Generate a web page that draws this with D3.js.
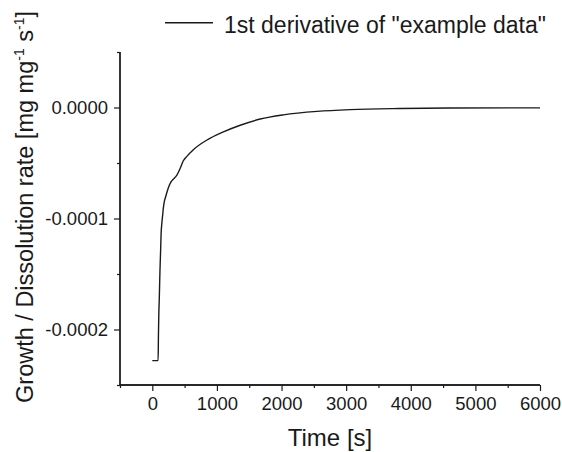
<!DOCTYPE html>
<html>
<head>
<meta charset="utf-8">
<script src="https://cdn.jsdelivr.net/npm/d3@7"></script>
<style>
  html, body { margin: 0; padding: 0; background: #fff; }
  svg { display: block; }
  text { font-family: "Liberation Sans", Arial, Helvetica, sans-serif; fill: #1a1a1a; }
</style>
</head>
<body>
<svg id="chart" width="562" height="452"></svg>
<script>
// ---- data ----
const timeS = [0, 90, 95, 100, 108, 118, 128, 136, 148, 161, 170, 182, 210, 250, 290, 330, 380, 430, 480, 535, 635, 840, 1100, 1360, 1670, 2030, 2550, 3060, 3830, 4600, 6000];
const rate = [-2.28e-4, -2.28e-4, -2.05e-4, -1.88e-4, -1.72e-4, -1.48e-4, -1.30e-4, -1.14e-4, -1.04e-4, -0.965e-4, -0.91e-4, -0.86e-4, -0.797e-4, -0.72e-4, -0.67e-4, -0.643e-4, -0.61e-4, -0.55e-4, -0.48e-4, -0.44e-4, -0.38e-4, -0.295e-4, -0.22e-4, -0.16e-4, -0.104e-4, -0.066e-4, -0.035e-4, -0.019e-4, -0.009e-4, -0.005e-4, -0.003e-4];
const xMajorTicks = [0, 1000, 2000, 3000, 4000, 5000, 6000];
const xMinorTicks = [-500, 500, 1500, 2500, 3500, 4500, 5500];
const yMajorTicks = [-0.0002, -0.0001, 0];
const yMajorLabels = ["-0.0002", "-0.0001", "0.0000"];
const yMinorTicks = [-0.00025, -0.00015, -0.00005, 0.00005];
const legendLabel = '1st derivative of "example data"';
const xTitle = "Time [s]";

// ---- layout ----
const svg = d3.select("#chart");
const pLeft = 120, pRight = 540, pTop = 52, pBottom = 385;
const x = d3.scaleLinear().domain([-500, 6000]).range([pLeft, pRight]);
const y = d3.scaleLinear().domain([-0.00025, 0.00005]).range([pBottom, pTop]);
const ink = "#1a1a1a";

// x axis
const gx = svg.append("g").attr("transform", `translate(0,${pBottom})`);
gx.call(d3.axisBottom(x).tickValues(xMajorTicks).tickSize(6).tickPadding(6).tickFormat(d => String(d)));
gx.append("g").call(d3.axisBottom(x).tickValues(xMinorTicks).tickSize(3).tickFormat(""));
gx.selectAll(".domain").attr("d", `M${pLeft},0H${pRight}`);
// y axis
const gy = svg.append("g").attr("transform", `translate(${pLeft},0)`);
gy.call(d3.axisLeft(y).tickValues(yMajorTicks).tickSize(6).tickPadding(6).tickFormat((d, i) => yMajorLabels[i]));
gy.append("g").call(d3.axisLeft(y).tickValues(yMinorTicks).tickSize(3).tickFormat(""));
gy.selectAll(".domain").attr("d", `M0,${pTop}V${pBottom}`);

svg.selectAll(".domain").attr("stroke", ink).attr("stroke-width", 1.3);
svg.selectAll(".tick line").attr("stroke", ink).attr("stroke-width", 1.2);
svg.selectAll(".tick text").attr("font-size", 18.5).attr("fill", ink)
   .style("font-family", '"Liberation Sans", Arial, sans-serif');

// line
const line = d3.line().x((d, i) => x(timeS[i])).y((d, i) => y(rate[i])).curve(d3.curveMonotoneX);
svg.append("path").datum(rate).attr("d", line)
   .attr("fill", "none").attr("stroke", ink).attr("stroke-width", 1.4);

// axis titles
svg.append("text").attr("x", (pLeft + pRight) / 2).attr("y", 446)
   .attr("text-anchor", "middle").attr("font-size", 24).text(xTitle);

const yt = svg.append("text").attr("transform", "translate(33,207) rotate(-90)")
   .attr("text-anchor", "middle").attr("font-size", 23.5);
yt.append("tspan").text("Growth / Dissolution rate [mg mg");
yt.append("tspan").attr("font-size", 14).attr("dy", -9).text("-1");
yt.append("tspan").attr("dy", 9).text(" s");
yt.append("tspan").attr("font-size", 14).attr("dy", -9).text("-1");
yt.append("tspan").attr("dy", 9).text("]");

// legend
svg.append("line").attr("x1", 165).attr("x2", 213).attr("y1", 22.7).attr("y2", 22.7)
   .attr("stroke", ink).attr("stroke-width", 1.4);
svg.append("text").attr("x", 224).attr("y", 33).attr("font-size", 23).text(legendLabel);
</script>
</body>
</html>
